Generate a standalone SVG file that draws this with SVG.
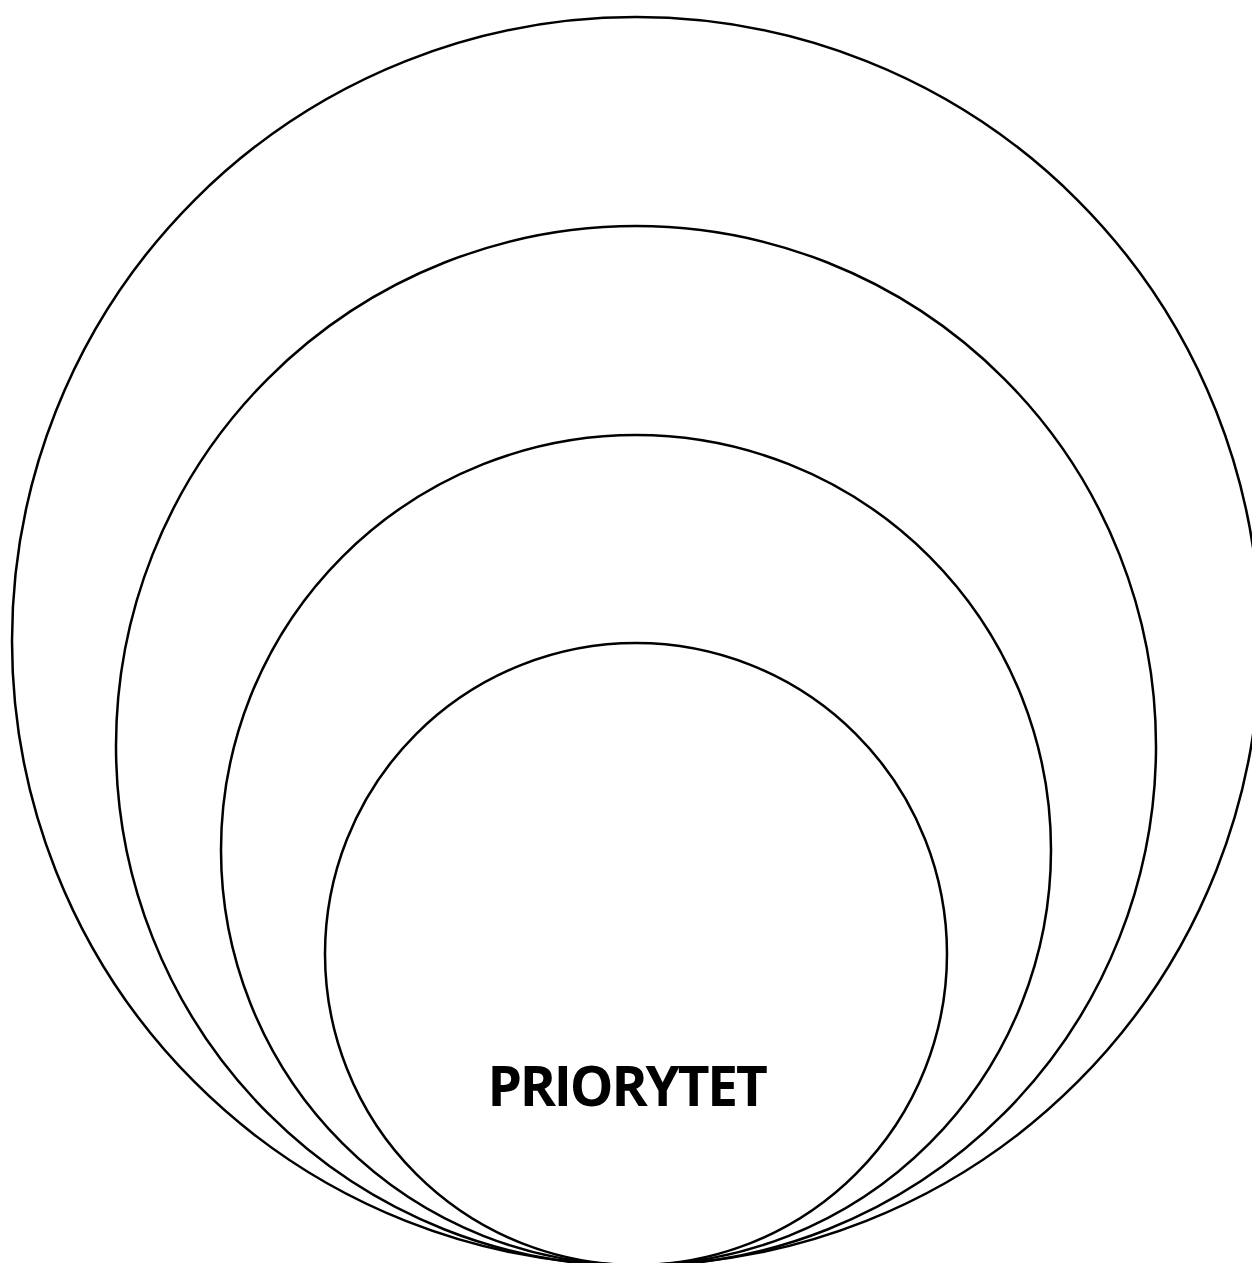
<svg xmlns="http://www.w3.org/2000/svg" width="1252" height="1263" viewBox="0 0 1252 1263">
<style>
.c{fill:none;stroke:#000;stroke-width:2.5}
.t{font-family:"Open Sans","Noto Sans",sans-serif;font-weight:bold;font-size:55px;letter-spacing:-2.2px;fill:#000}
</style>
<rect width="1252" height="1263" fill="#fff"/>
<g id="circle1"><circle class="c" cx="636" cy="641" r="624"/></g>
<g id="circle2"><circle class="c" cx="636" cy="746" r="520"/></g>
<g id="circle3"><circle class="c" cx="636" cy="850" r="415"/></g>
<g id="circle4"><circle class="c" cx="636" cy="954" r="311"/></g>
<g id="label"><text class="t" x="626.5" y="1106" text-anchor="middle">PRIORYTET</text></g>
</svg>
